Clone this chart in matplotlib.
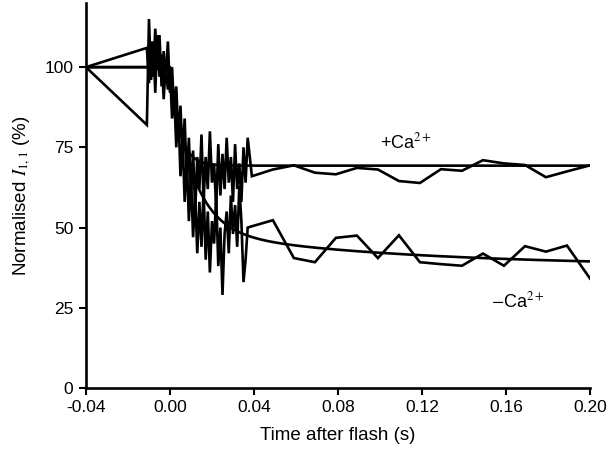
import numpy as np
import matplotlib
matplotlib.use("Agg")
import matplotlib.pyplot as plt

plt.rcParams['font.family'] = ['Liberation Sans', 'DejaVu Sans']
plt.rcParams['axes.unicode_minus'] = False
plt.rcParams['mathtext.fontset'] = 'stix'

# ---- data ----
# first point and pre-flash point
t_pre = [-0.04, -0.011]
plus_pre = [100, 106]
minus_pre = [100, 82]

# dense sampling region, 1 ms step
t_dense = [round(-0.010 + 0.001 * i, 3) for i in range(48)]
plus_dense = [95, 108, 97, 112, 99, 110, 94, 105, 96, 108,
              92, 100, 85, 94, 78, 88, 72, 84, 64, 78,
              60, 74, 55, 72, 62, 79, 58, 72, 62, 80,
              64, 70, 56, 76, 60, 73, 62, 78, 64, 72,
              58, 76, 62, 70, 58, 75, 64, 78]
minus_dense = [115, 96, 108, 92, 110, 97, 104, 90, 101, 93,
               99, 84, 92, 75, 86, 66, 78, 58, 72, 52,
               66, 47, 60, 42, 58, 44, 62, 40, 55, 36,
               52, 45, 60, 38, 50, 29, 48, 55, 42, 60,
               48, 57, 44, 63, 52, 33, 40, 50]

# sparse sampling region, 10 ms step
t_sparse = [0.039, 0.049, 0.059, 0.069, 0.079, 0.089, 0.099, 0.109, 0.119,
            0.129, 0.139, 0.149, 0.159, 0.169, 0.179, 0.189, 0.20]
plus_sparse = [66.0, 68.1, 69.4, 67.1, 66.6, 68.6, 68.1, 64.5, 63.9,
               68.2, 67.7, 71.0, 70.0, 69.5, 65.7, 67.5, 69.4]
minus_sparse = [50.4, 52.3, 40.5, 39.2, 46.8, 47.5, 40.5, 47.6, 39.2,
                38.6, 38.1, 41.9, 38.1, 44.2, 42.5, 44.4, 34.1]

# exponential fit parameters
plus_fit = dict(plateau=69.3, amp=30.7, tau=0.0045)
minus_fit = dict(plateau=37.9, amp1=50.6, tau1=0.0108, amp2=11.5, tau2=0.10)

xticks = [-0.04, 0.00, 0.04, 0.08, 0.12, 0.16, 0.20]
yticks = [0, 25, 50, 75, 100]

# ---- figure ----
fig = plt.figure(figsize=(6.14, 4.65), dpi=100)
ax = fig.add_axes([0.140, 0.1656, 0.821, 0.828])

lw = 1.9
ax.plot(t_pre + t_dense + t_sparse, plus_pre + plus_dense + plus_sparse,
        color='black', lw=lw, solid_joinstyle='miter')
ax.plot(t_pre + t_dense + t_sparse, minus_pre + minus_dense + minus_sparse,
        color='black', lw=lw, solid_joinstyle='miter')

tf = np.linspace(0, 0.20, 600)
fit_p = plus_fit['plateau'] + plus_fit['amp'] * np.exp(-tf / plus_fit['tau'])
fit_m = (minus_fit['plateau'] + minus_fit['amp1'] * np.exp(-tf / minus_fit['tau1'])
         + minus_fit['amp2'] * np.exp(-tf / minus_fit['tau2']))
tf_full = np.concatenate([[-0.04], tf])
ax.plot(tf_full, np.concatenate([[100], fit_p]), color='black', lw=lw)
ax.plot(tf_full, np.concatenate([[100], fit_m]), color='black', lw=lw)

ax.text(0.1124, 76.6, r'+Ca$^{2+}$', ha='center', va='center', fontsize=13)
ax.text(0.1657, 26.9, r'$-$Ca$^{2+}$', ha='center', va='center', fontsize=13)

ax.set_xlim(-0.04, 0.20)
ax.set_ylim(0, 120)
ax.set_xticks(xticks)
ax.set_xticklabels([f'{v:.2f}' for v in xticks])
ax.set_yticks(yticks)
ax.tick_params(direction='out', length=5, width=1.5, labelsize=12.5, pad=4)
for s in ['top', 'right']:
    ax.spines[s].set_visible(False)
for s in ['left', 'bottom']:
    ax.spines[s].set_linewidth(1.9)

ax.set_xlabel('Time after flash (s)', fontsize=13.5, labelpad=8)
ax.set_ylabel(r'Normalised $\mathit{I}_{1,1}$ (%)', fontsize=13.5, labelpad=8)

fig.savefig('out.png', dpi=100)
